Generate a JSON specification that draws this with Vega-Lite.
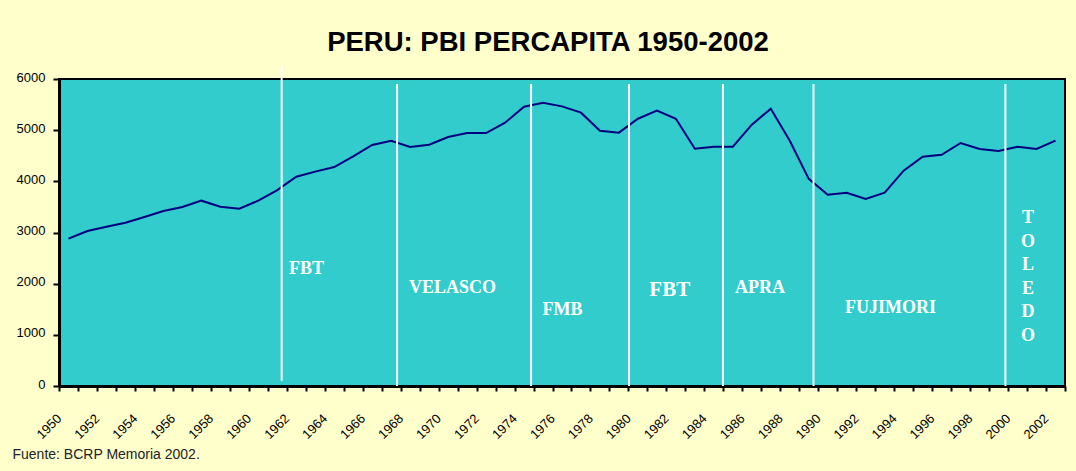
{
  "$schema": "https://vega.github.io/schema/vega-lite/v6.json",
  "width": 1006,
  "height": 307,
  "autosize": {"type": "none"},
  "padding": {"left": 59, "top": 79, "right": 11, "bottom": 85},
  "background": "#FFFFCC",
  "title": {
    "text": "PERU: PBI PERCAPITA 1950-2002",
    "font": "Liberation Sans, Arial, sans-serif",
    "fontSize": 27.5,
    "fontWeight": "bold",
    "color": "#000000",
    "anchor": "middle",
    "dx": -14,
    "offset": -13,
    "baseline": "alphabetic"
  },
  "config": {
    "view": {"stroke": "#000000", "strokeWidth": 2, "fill": "#33CCCC"}
  },
  "datasets": {
    "pbi": [
      {"anio": 1950, "valor": 2879}, {"anio": 1951, "valor": 3029}, {"anio": 1952, "valor": 3113},
      {"anio": 1953, "valor": 3192}, {"anio": 1954, "valor": 3303}, {"anio": 1955, "valor": 3420},
      {"anio": 1956, "valor": 3498}, {"anio": 1957, "valor": 3622}, {"anio": 1958, "valor": 3505},
      {"anio": 1959, "valor": 3466}, {"anio": 1960, "valor": 3622}, {"anio": 1961, "valor": 3830},
      {"anio": 1962, "valor": 4091}, {"anio": 1963, "valor": 4190}, {"anio": 1964, "valor": 4280},
      {"anio": 1965, "valor": 4489}, {"anio": 1966, "valor": 4710}, {"anio": 1967, "valor": 4794},
      {"anio": 1968, "valor": 4671}, {"anio": 1969, "valor": 4716}, {"anio": 1970, "valor": 4866},
      {"anio": 1971, "valor": 4944}, {"anio": 1972, "valor": 4944}, {"anio": 1973, "valor": 5146},
      {"anio": 1974, "valor": 5459}, {"anio": 1975, "valor": 5534}, {"anio": 1976, "valor": 5465},
      {"anio": 1977, "valor": 5342}, {"anio": 1978, "valor": 4990}, {"anio": 1979, "valor": 4951},
      {"anio": 1980, "valor": 5224}, {"anio": 1981, "valor": 5381}, {"anio": 1982, "valor": 5224},
      {"anio": 1983, "valor": 4638}, {"anio": 1984, "valor": 4677}, {"anio": 1985, "valor": 4677},
      {"anio": 1986, "valor": 5107}, {"anio": 1987, "valor": 5420}, {"anio": 1988, "valor": 4794},
      {"anio": 1989, "valor": 4048}, {"anio": 1990, "valor": 3739}, {"anio": 1991, "valor": 3778},
      {"anio": 1992, "valor": 3654}, {"anio": 1993, "valor": 3778}, {"anio": 1994, "valor": 4208},
      {"anio": 1995, "valor": 4481}, {"anio": 1996, "valor": 4520}, {"anio": 1997, "valor": 4749},
      {"anio": 1998, "valor": 4632}, {"anio": 1999, "valor": 4593}, {"anio": 2000, "valor": 4677},
      {"anio": 2001, "valor": 4632}, {"anio": 2002, "valor": 4794}
    ],
    "periodos": [
      {"anio": 1961.23, "valor": 104, "valor2": 6254},
      {"anio": 1967.31, "valor": 0, "valor2": 5900},
      {"anio": 1974.37, "valor": 0, "valor2": 5900},
      {"anio": 1979.53, "valor": 0, "valor2": 5900},
      {"anio": 1984.48, "valor": 0, "valor2": 5900},
      {"anio": 1989.25, "valor": 0, "valor2": 5900},
      {"anio": 1999.36, "valor": 0, "valor2": 5900}
    ],
    "etiquetas": [
      {"etiqueta": "FBT", "anio": 1961.62, "valor": 2292},
      {"etiqueta": "VELASCO", "anio": 1967.94, "valor": 1915},
      {"etiqueta": "FMB", "anio": 1974.97, "valor": 1485},
      {"etiqueta": "APRA", "anio": 1985.12, "valor": 1915},
      {"etiqueta": "FUJIMORI", "anio": 1990.91, "valor": 1524}
    ],
    "grande": [
      {"etiqueta": "FBT", "anio": 1980.6, "valor": 1876}
    ],
    "vertical": [
      {"etiqueta": "T|O|L|E|D|O", "anio": 2000.55, "valor": 3283}
    ]
  },
  "layer": [
    {
      "data": {"name": "pbi"},
      "mark": {"type": "line", "color": "#000080", "strokeWidth": 2},
      "encoding": {
        "x": {
          "field": "anio",
          "type": "quantitative",
          "scale": {"domain": [1949.5, 2002.5], "nice": false, "zero": false},
          "axis": {
            "values": [1949.5, 1950.5, 1951.5, 1952.5, 1953.5, 1954.5, 1955.5, 1956.5, 1957.5, 1958.5, 1959.5, 1960.5, 1961.5, 1962.5, 1963.5, 1964.5, 1965.5, 1966.5, 1967.5, 1968.5, 1969.5, 1970.5, 1971.5, 1972.5, 1973.5, 1974.5, 1975.5, 1976.5, 1977.5, 1978.5, 1979.5, 1980.5, 1981.5, 1982.5, 1983.5, 1984.5, 1985.5, 1986.5, 1987.5, 1988.5, 1989.5, 1990.5, 1991.5, 1992.5, 1993.5, 1994.5, 1995.5, 1996.5, 1997.5, 1998.5, 1999.5, 2000.5, 2001.5, 2002.5],
            "tickCount": 200,
            "labelExpr": "(datum.value + 0.5) % 2 == 0 ? toString(datum.value + 0.5) : ''",
            "labelAngle": -45,
            "labelAlign": "right",
            "labelBaseline": "middle",
            "labelPadding": 25,
            "labelFont": "Liberation Sans",
            "labelFontSize": 13,
            "labelColor": "#000000",
            "labelOverlap": false,
            "labelBound": false,
            "labelFlush": false,
            "tickSize": 5,
            "tickWidth": 2,
            "tickColor": "#000000",
            "domainColor": "#000000",
            "domainWidth": 3,
            "grid": false,
            "title": "Fuente: BCRP Memoria 2002.",
            "titleX": -47,
            "titleY": 72,
            "titleAlign": "left",
            "titleBaseline": "alphabetic",
            "titleFont": "Liberation Sans",
            "titleFontSize": 14,
            "titleFontWeight": "normal",
            "titleColor": "#222222"
          }
        },
        "y": {
          "field": "valor",
          "type": "quantitative",
          "scale": {"domain": [0, 6000], "nice": false, "zero": true},
          "axis": {
            "values": [0, 1000, 2000, 3000, 4000, 5000, 6000],
            "tickCount": 20,
            "format": "d",
            "title": null,
            "grid": false,
            "tickSize": 6,
            "tickWidth": 2,
            "tickColor": "#000000",
            "domainColor": "#000000",
            "domainWidth": 3,
            "labelPadding": 8,
            "labelFont": "Liberation Sans",
            "labelFontSize": 13,
            "labelColor": "#000000",
            "labelOffset": -2
          }
        }
      }
    },
    {
      "data": {"name": "periodos"},
      "mark": {"type": "rule", "color": "#FFFFFF", "strokeWidth": 2},
      "encoding": {
        "x": {"field": "anio", "type": "quantitative"},
        "y": {"field": "valor", "type": "quantitative"},
        "y2": {"field": "valor2"}
      }
    },
    {
      "data": {"name": "etiquetas"},
      "mark": {"type": "text", "font": "Liberation Serif", "fontWeight": "bold", "fontSize": 18, "color": "#FFFFFF", "align": "left", "baseline": "middle"},
      "encoding": {
        "x": {"field": "anio", "type": "quantitative"},
        "y": {"field": "valor", "type": "quantitative"},
        "text": {"field": "etiqueta"}
      }
    },
    {
      "data": {"name": "grande"},
      "mark": {"type": "text", "font": "Liberation Serif", "fontWeight": "bold", "fontSize": 21, "color": "#FFFFFF", "align": "left", "baseline": "middle"},
      "encoding": {
        "x": {"field": "anio", "type": "quantitative"},
        "y": {"field": "valor", "type": "quantitative"},
        "text": {"field": "etiqueta"}
      }
    },
    {
      "data": {"name": "vertical"},
      "mark": {"type": "text", "font": "Liberation Serif", "fontWeight": "bold", "fontSize": 18, "color": "#FFFFFF", "align": "center", "baseline": "middle", "lineBreak": "|", "lineHeight": 23.6},
      "encoding": {
        "x": {"field": "anio", "type": "quantitative"},
        "y": {"field": "valor", "type": "quantitative"},
        "text": {"field": "etiqueta"}
      }
    }
  ]
}
